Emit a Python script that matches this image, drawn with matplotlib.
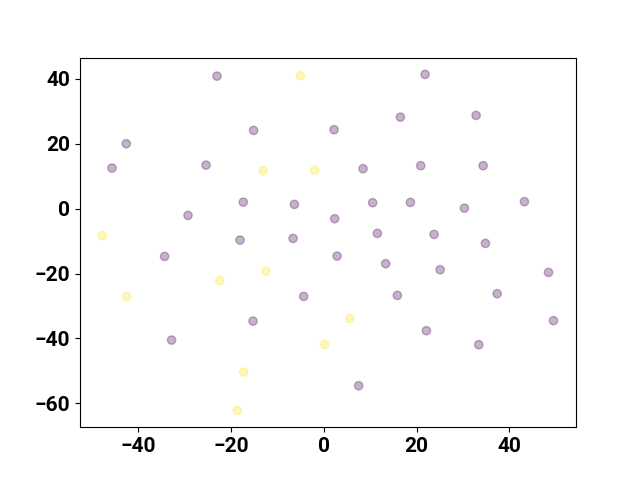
import matplotlib
matplotlib.use("Agg")
import matplotlib.pyplot as plt
import numpy as np

plt.rcParams['font.family'] = ['Roboto', 'DejaVu Sans']
plt.rcParams['font.weight'] = 'bold'

purple_x = [-22.97, 21.85, -42.52, -45.6, -15.09, -25.34, 2.24, 16.53, 32.84, 8.49,
            20.91, 34.35, -29.22, -17.31, -6.31, 10.56, 18.69, 30.32, 43.25, -18.02,
            -6.59, 2.37, 11.57, 23.79, 34.85, -34.27, 2.89, 13.36, 25.09, 48.43,
            -4.31, 15.88, 37.37, -15.22, 22.13, 49.5, 33.41, -32.76, 7.54]
purple_y = [40.86, 41.39, 20.03, 12.51, 24.13, 13.44, 24.35, 28.23, 28.75, 12.33,
            13.25, 13.25, -2.06, 2.03, 1.33, 1.85, 1.94, 0.18, 2.16, -9.68,
            -9.15, -3.08, -7.61, -7.92, -10.69, -14.7, -14.61, -16.95, -18.8, -19.63,
            -27.03, -26.72, -26.19, -34.64, -37.6, -34.51, -41.91, -40.49, -54.55]
yellow_x = [-5.02, -13.06, -1.94, -47.63, -42.46, -22.41, -12.41, 5.6, 0.22, -17.24, -18.6]
yellow_y = [40.99, 11.71, 11.9, -8.23, -27.12, -22.19, -19.23, -33.81, -41.91, -50.35, -62.16]

x = np.array(purple_x + yellow_x)
y = np.array(purple_y + yellow_y)
c = np.array([0] * len(purple_x) + [1] * len(yellow_x))

fig, ax = plt.subplots(figsize=(6.4, 4.8), dpi=100)
ax.scatter(x, y, c=c, cmap='viridis', alpha=0.3)
ax.tick_params(labelsize=15)
for lbl in ax.get_xticklabels() + ax.get_yticklabels():
    lbl.set_fontweight('bold')
fig.savefig("out.png")
